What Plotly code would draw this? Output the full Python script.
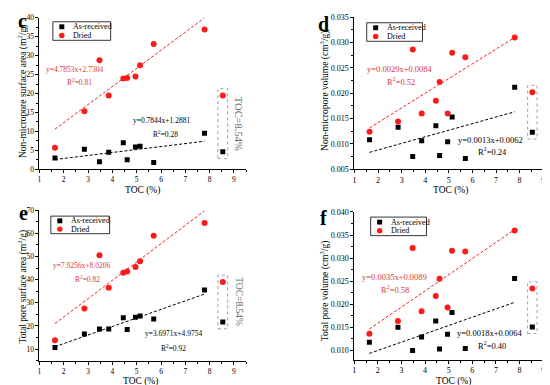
import plotly.graph_objects as go

W, H = 550, 385
FONT = "Liberation Serif"

# ---------------- data ----------------
toc = [1.64, 2.85, 3.47, 3.85, 4.45, 4.61, 4.95, 5.14, 5.70, 7.79]
toc_outlier = 8.54

c_asrec = [3.0, 5.3, 2.0, 4.5, 7.0, 2.5, 5.9, 6.1, 1.8, 9.5]
c_dried = [5.7, 15.3, 28.8, 19.5, 24.0, 24.1, 24.5, 27.5, 33.1, 36.9]
c_out = [4.6, 19.5]  # as-received, dried at TOC=8.54%

d_asrec = [0.0108, 0.0133, 0.0075, 0.0106, 0.0136, 0.0077, 0.0104, 0.0153, 0.0071, 0.0212]
d_dried = [0.0124, 0.0144, 0.0286, 0.0160, 0.0185, 0.0222, 0.0160, 0.0280, 0.0271, 0.0310]
d_out = [0.0123, 0.0202]

e_asrec = [10.7, 16.5, 18.7, 18.7, 23.5, 18.5, 23.8, 24.3, 23.0, 35.5]
e_dried = [13.8, 27.5, 50.5, 36.5, 43.0, 43.5, 45.5, 48.0, 59.0, 64.5]
e_out = [21.7, 39.0]

f_asrec = [0.0118, 0.0150, 0.0100, 0.0129, 0.0164, 0.0103, 0.0135, 0.0182, 0.0104, 0.0256]
f_dried = [0.0136, 0.0164, 0.0322, 0.0185, 0.0218, 0.0255, 0.0193, 0.0316, 0.0314, 0.0360]
f_out = [0.0151, 0.0234]

# fit coefficients (slope, intercept, R2) -> as-received, dried
c_fit = [(0.7844, 1.2881, "0.28"), (4.7853, 2.7304, "0.81")]
d_fit = [(0.0013, 0.0062, "0.24"), (0.0029, 0.0084, "0.52")]
e_fit = [(3.6971, 4.9754, "0.92"), (7.9256, 8.0206, "0.82")]
f_fit = [(0.0018, 0.0064, "0.40"), (0.0035, 0.0089, "0.58")]

eq_text = {
    "c": ["y=0.7844x+1.2881", "y=4.7853x+2.7304"],
    "d": ["y=0.0013x+0.0062", "y=0.0029x+0.0084"],
    "e": ["y=3.6971x+4.9754", "y=7.9256x+8.0206"],
    "f": ["y=0.0018x+0.0064", "y=0.0035x+0.0089"],
}

y_titles = {
    "c": "Non-micropore surface area (m<sup>2</sup>/g)",
    "d": "Non-micropore volume (cm<sup>3</sup>/g)",
    "e": "Total pore surface area (m<sup>2</sup>/g)",
    "f": "Total pore volume (cm<sup>3</sup>/g)",
}
x_title = "TOC (%)"
series_names = ["As-received", "Dried"]
outlier_label = "TOC=8.54%"

# ---------------- layout geometry (pixels) ----------------
def px(x):
    return x / W

def py(y):
    return 1 - y / H

panels = {
    "c": dict(ax="", xl=29.5, xr=237, yt=6, yb=161, yr=[0, 40], dt=5, fmt="", tf=7.5, ef=7.5,
              data=(c_asrec, c_dried, c_out, c_fit)),
    "d": dict(ax="2", xl=345.7, xr=547, yt=5.3, yb=161, yr=[0.005, 0.035], dt=0.005, fmt=".3f", tf=8, ef=8.5,
              data=(d_asrec, d_dried, d_out, d_fit)),
    "e": dict(ax="3", xl=29.5, xr=237, yt=203, yb=357, yr=[5, 70], dt=10, fmt="", tf=7.5, ef=7.5,
              data=(e_asrec, e_dried, e_out, e_fit)),
    "f": dict(ax="4", xl=345.5, xr=547, yt=204.7, yb=356, yr=[0.008, 0.040], dt=0.005, fmt=".3f", tf=8, ef=8.5,
              data=(f_asrec, f_dried, f_out, f_fit)),
}

ann_pos = {
    "c": dict(letter=(13, 9), ytitle=(12, 81), xtitle=(133, 183),
              eq_dried=(64.5, 59), r_dried=(70, 72), eq_as=(152, 111), r_as=(156, 125),
              leg=(43, 10, 101, 29), tocfs=10.5, tocshift=16),
    "d": dict(letter=(315, 12), ytitle=(315, 81), xtitle=(442, 183),
              eq_dried=(391, 58), r_dried=(392, 71), eq_as=(482, 131), r_as=(484, 143),
              leg=(358, 11, 414, 30), tocfs=8.5, tocshift=13),
    "e": dict(letter=(14, 206), ytitle=(12, 281), xtitle=(131, 378.5),
              eq_dried=(72, 260), r_dried=(78, 273), eq_as=(164, 329), r_as=(164, 344),
              leg=(41, 209, 100, 227), tocfs=9.5, tocshift=16),
    "f": dict(letter=(315, 211), ytitle=(315, 285), xtitle=(445, 378.5),
              eq_dried=(386, 271), r_dried=(386, 284), eq_as=(482, 329), r_as=(484, 341),
              leg=(362, 210, 418, 229), tocfs=8.5, tocshift=13),
}

RED = "#ff1a1a"
RED_TXT = "#d83a3a"
BLACK = "#000000"

fig = go.Figure()
annotations = []
shapes = []

for key, p in panels.items():
    xa = "x" + p["ax"]
    ya = "y" + p["ax"]
    asrec, dried, out, fit = p["data"]
    xlo, xhi = min(toc), max(toc)

    # fit lines
    for (slope, icpt, _), col in zip(fit, [BLACK, RED]):
        fig.add_trace(go.Scatter(
            x=[xlo, xhi], y=[slope * xlo + icpt, slope * xhi + icpt],
            mode="lines", line=dict(color=col, width=1, dash="3px,2px"),
            xaxis=xa, yaxis=ya, showlegend=False, hoverinfo="skip"))

    # points
    fig.add_trace(go.Scatter(
        x=toc + [toc_outlier], y=asrec + [out[0]], mode="markers", name=series_names[0],
        marker=dict(symbol="square", size=5, color=BLACK),
        xaxis=xa, yaxis=ya, showlegend=False))
    fig.add_trace(go.Scatter(
        x=toc + [toc_outlier], y=dried + [out[1]], mode="markers", name=series_names[1],
        marker=dict(symbol="circle", size=6, color=RED),
        xaxis=xa, yaxis=ya, showlegend=False))

    # axes
    xdom = [px(p["xl"]), px(p["xr"])]
    ydom = [py(p["yb"]), py(p["yt"])]
    common = dict(showline=True, linecolor="black", linewidth=1, ticks="outside", ticklen=3,
                  tickwidth=1, tickcolor="black", showgrid=False, zeroline=False,
                  tickfont=dict(family=FONT, size=p["tf"], color="black"))
    fig.update_layout(**{
        "xaxis" + p["ax"]: dict(domain=xdom, range=[1, 9.5], tick0=1, dtick=1, anchor=ya,
                                minor=dict(ticks="outside", ticklen=2, dtick=0.5, tick0=1,
                                           tickcolor="black"),
                                **common),
        "yaxis" + p["ax"]: dict(domain=ydom, range=p["yr"], dtick=p["dt"], tick0=0,
                                tickformat=p["fmt"], anchor=xa,
                                minor=dict(ticks="outside", ticklen=2, dtick=p["dt"] / 2, tick0=0,
                                           tickcolor="black"),
                                **common),
    })

    a = ann_pos[key]
    ef = p["ef"]

    def pa(xy, text, size, color="black", **kw):
        annotations.append(dict(x=px(xy[0]), y=py(xy[1]), xref="paper", yref="paper",
                                text=text, showarrow=False, xanchor="center", yanchor="middle",
                                font=dict(family=FONT, size=size, color=color), **kw))

    pa(a["letter"], "<b>" + key + "</b>", 20)
    pa(a["ytitle"], y_titles[key], 9.5, textangle=-90)
    pa(a["xtitle"], x_title, 9.5)
    pa(a["eq_dried"], eq_text[key][1], ef, RED_TXT)
    pa(a["r_dried"], "R<sup>2</sup>=" + fit[1][2], ef, RED_TXT)
    pa(a["eq_as"], eq_text[key][0], ef, BLACK)
    pa(a["r_as"], "R<sup>2</sup>=" + fit[0][2], ef, BLACK)

    # legend box
    lx0, ly0, lx1, ly1 = a["leg"]
    shapes.append(dict(type="rect", xref="paper", yref="paper",
                       x0=px(lx0), x1=px(lx1), y0=py(ly1), y1=py(ly0),
                       line=dict(color="black", width=0.8), fillcolor="white", layer="below"))
    row1 = ly0 + (ly1 - ly0) * 0.27
    row2 = ly0 + (ly1 - ly0) * 0.74
    mx = lx0 + 9
    shapes.append(dict(type="rect", xref="paper", yref="paper",
                       x0=px(mx - 2.5), x1=px(mx + 2.5), y0=py(row1 + 2.5), y1=py(row1 - 2.5),
                       line=dict(width=0), fillcolor=BLACK))
    shapes.append(dict(type="circle", xref="paper", yref="paper",
                       x0=px(mx - 2.8), x1=px(mx + 2.8), y0=py(row2 + 2.8), y1=py(row2 - 2.8),
                       line=dict(width=0), fillcolor=RED))
    for row, name in zip([row1, row2], series_names):
        annotations.append(dict(x=px(lx0 + 18), y=py(row), xref="paper", yref="paper",
                                text=name, showarrow=False, xanchor="left", yanchor="middle",
                                font=dict(family=FONT, size=8, color="black")))

    # dotted box around the excluded sample
    span = p["yr"][1] - p["yr"][0]
    lo, hi = min(out), max(out)
    shapes.append(dict(type="rect", xref=xa, yref=ya,
                       x0=toc_outlier - 0.2, x1=toc_outlier + 0.2,
                       y0=lo - 0.045 * span, y1=hi + 0.045 * span,
                       line=dict(color="#888888", width=0.8, dash="dot")))
    annotations.append(dict(x=toc_outlier, y=(lo + hi) / 2, xref=xa, yref=ya, xshift=a["tocshift"],
                            text=outlier_label, showarrow=False, textangle=90,
                            xanchor="center", yanchor="middle",
                            font=dict(family=FONT, size=a["tocfs"], color="#666666")))

fig.update_layout(
    width=W, height=H, margin=dict(l=0, r=0, t=0, b=0),
    paper_bgcolor="white", plot_bgcolor="white",
    showlegend=False, annotations=annotations, shapes=shapes,
    font=dict(family=FONT, color="black"),
)

fig.write_html("out.html")
